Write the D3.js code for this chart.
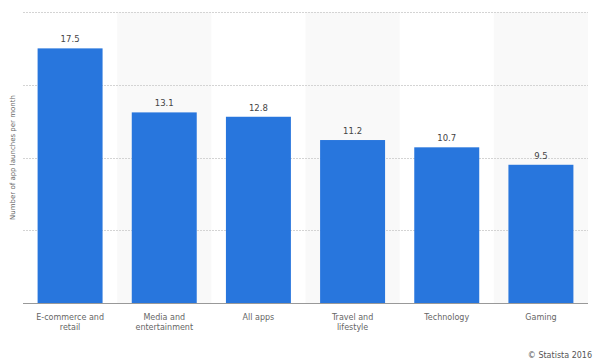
<!DOCTYPE html>
<html><head><meta charset="utf-8">
<script src="https://cdn.jsdelivr.net/npm/d3@7"></script>
<style>body{margin:0;background:#fff;}svg{display:block;font-family:"DejaVu Sans",Verdana,sans-serif;}</style>
</head><body>
<svg id="chart" width="596" height="364"></svg>
<script>
const categories = [["E-commerce and","retail"],["Media and","entertainment"],["All apps"],["Travel and","lifestyle"],["Technology"],["Gaming"]];
const values = [17.5, 13.1, 12.8, 11.2, 10.7, 9.5];
const yTicks = [0, 5, 10, 15, 20];
const yLabel = "Number of app launches per month";
const credit = "© Statista 2016";

const svg = d3.select("#chart");
const pL = 23, pR = 588, pT = 12, pB = 303;
const keys = categories.map((c, i) => i);
const x = d3.scaleBand().domain(keys).range([pL, pR]).paddingInner(0.31).paddingOuter(0.155);
const xb = d3.scaleBand().domain(keys).range([pL, pR]);
const y = d3.scaleLinear().domain([0, 20]).range([pB, pT]);

// alternating bands
svg.append("g").selectAll("rect").data(keys.filter(i => i % 2 === 1)).join("rect")
  .attr("x", i => xb(i)).attr("width", xb.bandwidth())
  .attr("y", pT).attr("height", pB - pT).attr("fill", "#f9f9f9");

// gridlines
svg.append("g").selectAll("line").data(yTicks.filter(t => t > 0)).join("line")
  .attr("x1", pL).attr("x2", pR)
  .attr("y1", d => Math.round(y(d)) + 0.5).attr("y2", d => Math.round(y(d)) + 0.5)
  .attr("stroke", "#d4d4d4").attr("stroke-width", 1).attr("stroke-dasharray", "2,1");

// bars
svg.append("g").selectAll("rect").data(values).join("rect")
  .attr("x", (d, i) => x(i)).attr("width", x.bandwidth())
  .attr("y", d => y(d)).attr("height", d => pB - y(d))
  .attr("fill", "#2876dd");

// value labels
svg.append("g").selectAll("text").data(values).join("text")
  .attr("x", (d, i) => x(i) + x.bandwidth() / 2).attr("y", d => y(d) - 6)
  .attr("text-anchor", "middle").attr("font-size", 8.5).attr("fill", "#444")
  .text(d => d.toFixed(1));

// baseline
svg.append("line").attr("x1", pL).attr("x2", pR)
  .attr("y1", pB + 0.5).attr("y2", pB + 0.5)
  .attr("stroke", "#999").attr("stroke-width", 1.2);

// category labels
const cl = svg.append("g").selectAll("text").data(categories).join("text")
  .attr("text-anchor", "middle").attr("font-size", 8).attr("fill", "#666")
  .attr("x", (d, i) => xb(i) + xb.bandwidth() / 2).attr("y", pB + 17);
cl.selectAll("tspan").data(d => d).join("tspan")
  .attr("x", function() { return d3.select(this.parentNode).attr("x"); })
  .attr("dy", (d, j) => j === 0 ? 0 : 10).text(d => d);

// y label
svg.append("text").attr("transform", `translate(15,${(pT + pB) / 2}) rotate(-90)`)
  .attr("text-anchor", "middle").attr("font-size", 7).attr("fill", "#666").text(yLabel);

// credit
svg.append("text").attr("x", 592).attr("y", 358).attr("text-anchor", "end")
  .attr("font-size", 8).attr("fill", "#555").text(credit);
</script>
</body></html>
